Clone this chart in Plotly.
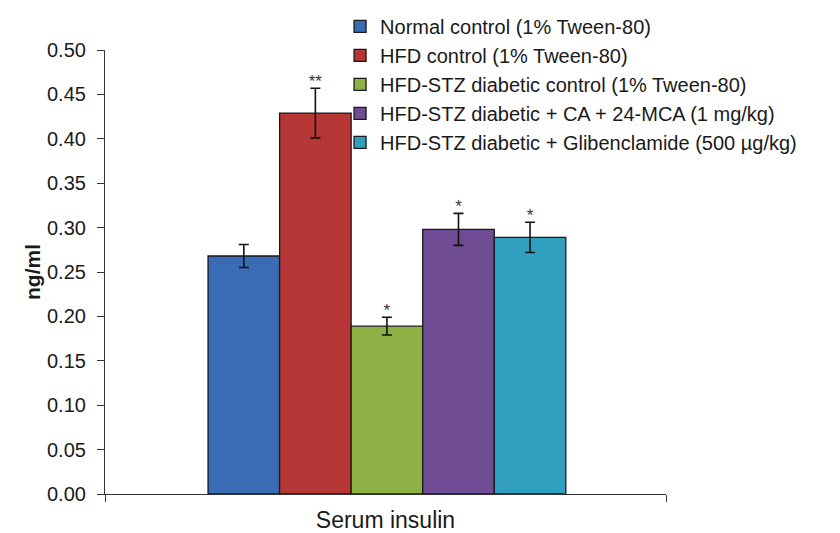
import plotly.graph_objects as go

groups = [
    "Normal control (1% Tween-80)",
    "HFD control (1% Tween-80)",
    "HFD-STZ diabetic control (1% Tween-80)",
    "HFD-STZ diabetic + CA + 24-MCA (1 mg/kg)",
    "HFD-STZ diabetic + Glibenclamide (500 µg/kg)",
]
values = [0.268, 0.429, 0.189, 0.298, 0.289]
errors = [0.013, 0.028, 0.010, 0.018, 0.017]
signif = ["", "**", "*", "*", "*"]
colors = ["#3a6cb5", "#b53634", "#8db145", "#704c95", "#31a0bf"]
category = "Serum insulin"
yticks = [0.00, 0.05, 0.10, 0.15, 0.20, 0.25, 0.30, 0.35, 0.40, 0.45, 0.50]

star_gap = 0.006  # gap between error cap and significance mark (data units)

fig = go.Figure()
for i, (g, v, e, c) in enumerate(zip(groups, values, errors, colors)):
    fig.add_trace(go.Bar(
        x=[i], y=[v], name=g, width=1.0,
        marker=dict(color=c, line=dict(color="#1a1a1a", width=1.3)),
        error_y=dict(type="data", array=[e], visible=True, color="#111111",
                     thickness=1.6, width=5),
    ))

fig.add_trace(go.Scatter(
    x=list(range(len(values))),
    y=[v + e + star_gap for v, e in zip(values, errors)],
    text=signif, mode="text", textposition="middle center",
    textfont=dict(family="Liberation Sans, Arial", size=17, color="#333333"),
    showlegend=False, hoverinfo="skip",
))

x0, x1 = -1.94, 5.9
fig.update_layout(
    width=832, height=525,
    margin=dict(l=97, r=174, t=42, b=39, autoexpand=False),
    paper_bgcolor="white", plot_bgcolor="white",
    font=dict(family="Liberation Sans, Arial", size=20, color="#1a1a1a"),
    barmode="overlay",
    showlegend=True,
    legend=dict(
        x=0.419, y=1.097, xanchor="left", yanchor="top",
        font=dict(size=20, color="#1a1a1a"),
        bgcolor="rgba(0,0,0,0)",
    ),
    xaxis=dict(
        range=[x0, x1], showgrid=False, zeroline=False, automargin=False,
        showline=True, linecolor="#333333", linewidth=1.2,
        tickmode="array", tickvals=[x0, x1], ticktext=["", ""], ticks="outside",
        ticklen=7, tickcolor="#333333",
        title=dict(text=category, font=dict(size=23), standoff=10),
    ),
    yaxis=dict(
        range=[0, 0.5], tickmode="array", tickvals=yticks, automargin=False,
        tickformat=".2f", showgrid=False, zeroline=False,
        showline=True, linecolor="#333333", linewidth=1.2,
        ticks="outside", ticklen=7, tickcolor="#333333",
        tickfont=dict(size=20), ticklabelstandoff=7,
        title=dict(text="<b>ng/ml</b>", font=dict(size=21), standoff=0),
    ),
)

fig.write_html("out.html")
